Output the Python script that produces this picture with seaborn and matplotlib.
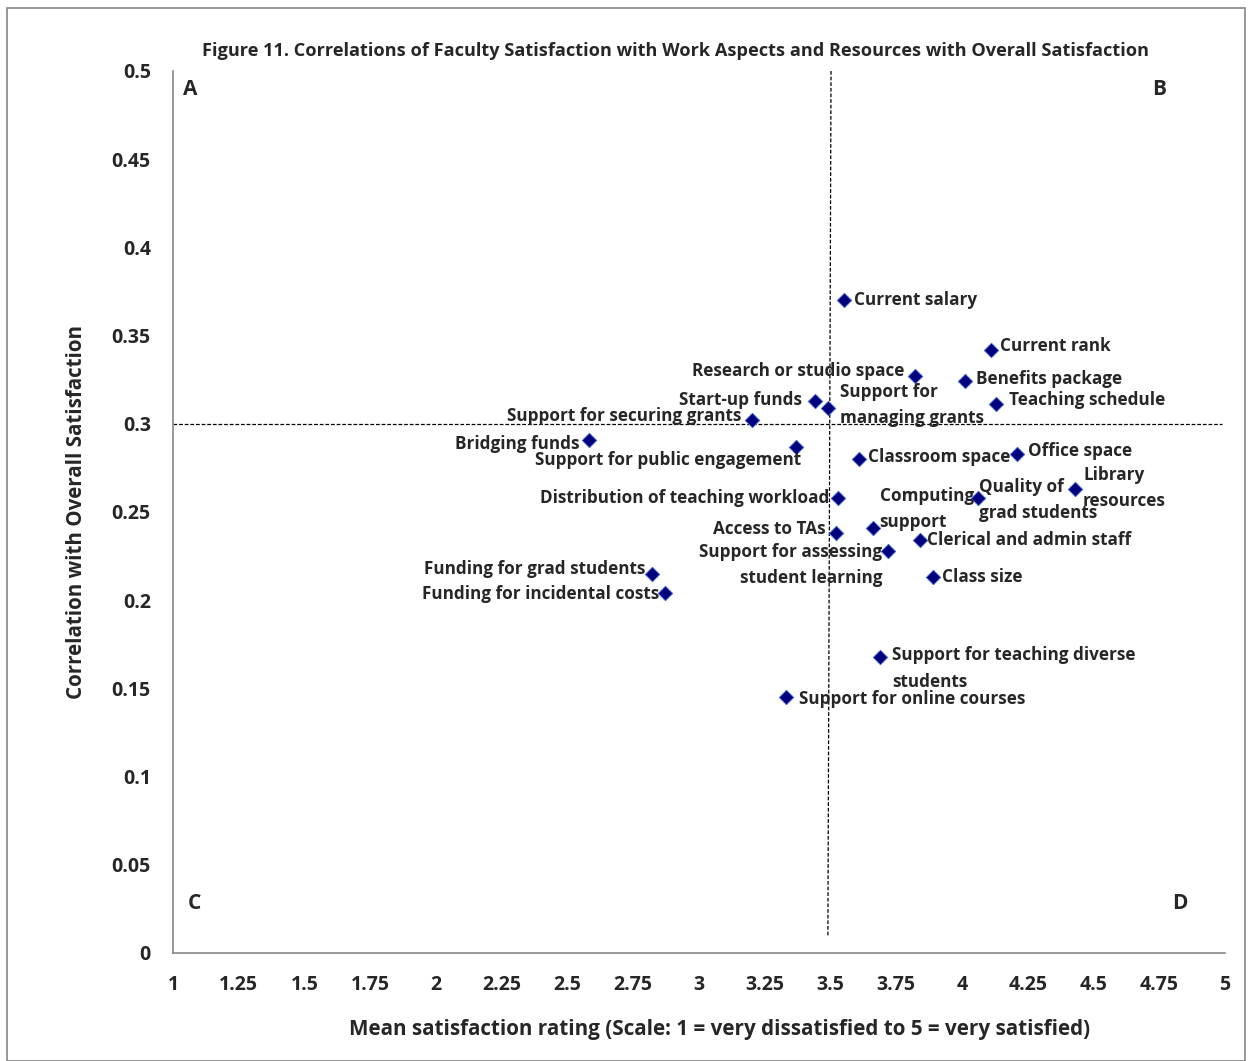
import matplotlib
matplotlib.use("Agg")
import matplotlib.pyplot as plt
import seaborn as sns
import pandas as pd

# data
items = [
    "Current salary", "Current rank", "Research or studio space", "Benefits package",
    "Start-up funds", "Support for\nmanaging grants", "Teaching schedule",
    "Support for securing grants", "Bridging funds", "Support for public engagement",
    "Classroom space", "Office space", "Library\nresources", "Quality of\ngrad students",
    "Distribution of teaching workload", "Computing\nsupport", "Access to TAs",
    "Clerical and admin staff", "Support for assessing\nstudent learning", "Class size",
    "Funding for grad students", "Funding for incidental costs",
    "Support for teaching diverse\nstudents", "Support for online courses",
]
mean_rating = [
    3.55, 4.11, 3.82, 4.01,
    3.44, 3.49, 4.13,
    3.20, 2.58, 3.37,
    3.61, 4.21, 4.43, 4.06,
    3.53, 3.66, 3.52,
    3.84, 3.72, 3.89,
    2.82, 2.87,
    3.69, 3.33,
]
correlation = [
    0.370, 0.342, 0.327, 0.324,
    0.313, 0.309, 0.311,
    0.302, 0.291, 0.287,
    0.280, 0.283, 0.263, 0.258,
    0.258, 0.241, 0.238,
    0.234, 0.228, 0.213,
    0.215, 0.204,
    0.168, 0.145,
]

df = pd.DataFrame({"item": items, "mean": mean_rating, "corr": correlation})

# label placement: (dx px, dy px, ha)
label_pos = {
    "Current salary": (10, 0, "left"),
    "Current rank": (9, 4, "left"),
    "Research or studio space": (-10, 5, "right"),
    "Benefits package": (11, 2, "left"),
    "Start-up funds": (-13, 1, "right"),
    "Support for\nmanaging grants": (12, 3, "left"),
    "Teaching schedule": (13, 4, "left"),
    "Support for securing grants": (-10, 4, "right"),
    "Bridging funds": (-9, -4, "right"),
    "Support for public engagement": (5, -13, "right"),
    "Classroom space": (9, 2, "left"),
    "Office space": (11, 3, "left"),
    "Library\nresources": (8, 1, "left"),
    "Quality of\ngrad students": (1, -2, "left"),
    "Distribution of teaching workload": (-9, 0, "right"),
    "Computing\nsupport": (7, 19, "left"),
    "Access to TAs": (-10, 4, "right"),
    "Clerical and admin staff": (7, 0, "left"),
    "Support for assessing\nstudent learning": (-6, -14, "right"),
    "Class size": (9, 0, "left"),
    "Funding for grad students": (-6, 5, "right"),
    "Funding for incidental costs": (-6, -1, "right"),
    "Support for teaching diverse\nstudents": (12, -12, "left"),
    "Support for online courses": (13, -2, "left"),
}

sns.set_style("white")
plt.rcParams["font.family"] = ["Open Sans", "DejaVu Sans"]
plt.rcParams["font.weight"] = "bold"

fig = plt.figure(figsize=(12.5, 10.61), dpi=100)
ax = fig.add_axes([0.1384, 0.1018, 0.8416, 0.8313])

sns.scatterplot(data=df, x="mean", y="corr", marker="D", s=55, color="#00007f",
                edgecolor="#4a6fd0", linewidth=0.6, ax=ax, zorder=3)

for _, r in df.iterrows():
    dx, dy, ha = label_pos[r["item"]]
    ax.annotate(r["item"], (r["mean"], r["corr"]), xytext=(dx, dy),
                textcoords="offset pixels", ha=ha, va="center", multialignment=ha,
                fontsize=12.3, fontweight="bold", linespacing=1.6, zorder=4)

# quadrant divider lines
ax.plot([3.502, 3.49], [0.5, 0.009], ls=(0, (3, 1.5)), color="black", lw=0.9, zorder=2)
ax.plot([1, 4.99], [0.3, 0.3], ls=(0, (3, 1.5)), color="black", lw=0.9, zorder=2)

for letter, x, y in [("A", 1.065, 0.4895), ("B", 4.75, 0.4897), ("C", 1.08, 0.0283), ("D", 4.83, 0.0283)]:
    ax.text(x, y, letter, ha="center", va="center", fontsize=15, fontweight="bold")

ax.set_xlim(1, 5)
ax.set_ylim(0, 0.5)
ax.set_xticks([1 + 0.25 * i for i in range(17)])
ax.set_xticklabels(["1", "1.25", "1.5", "1.75", "2", "2.25", "2.5", "2.75", "3", "3.25",
                    "3.5", "3.75", "4", "4.25", "4.5", "4.75", "5"])
ax.set_yticks([0.05 * i for i in range(11)])
ax.set_yticklabels(["0", "0.05", "0.1", "0.15", "0.2", "0.25", "0.3", "0.35", "0.4", "0.45", "0.5"])
ax.tick_params(axis="both", direction="out", length=5, width=1, color="#868686",
               labelsize=14, pad=11)
for lab in ax.get_xticklabels() + ax.get_yticklabels():
    lab.set_fontweight("bold")

for side in ["top", "right"]:
    ax.spines[side].set_visible(False)
for side in ["left", "bottom"]:
    ax.spines[side].set_color("#868686")
    ax.spines[side].set_linewidth(1.2)

ax.set_xlabel("Mean satisfaction rating (Scale: 1 = very dissatisfied to 5 = very satisfied)",
              fontsize=14.9, fontweight="bold")
ax.xaxis.set_label_coords(0.5195, -0.0862)
ax.xaxis.label.set_va("center")
ax.set_ylabel("Correlation with Overall Satisfaction", fontsize=14.8, fontweight="bold", labelpad=18)
fig.text(0.5405, 0.952, "Figure 11. Correlations of Faculty Satisfaction with Work Aspects and Resources with Overall Satisfaction",
         ha="center", va="center", fontsize=13.1, fontweight="bold")

fig.patches.append(plt.Rectangle((0.0056, 0.0), 0.99, 0.9925, transform=fig.transFigure,
                                 fill=False, edgecolor="#868686", lw=1.2))

fig.savefig("out.png", dpi=100)
